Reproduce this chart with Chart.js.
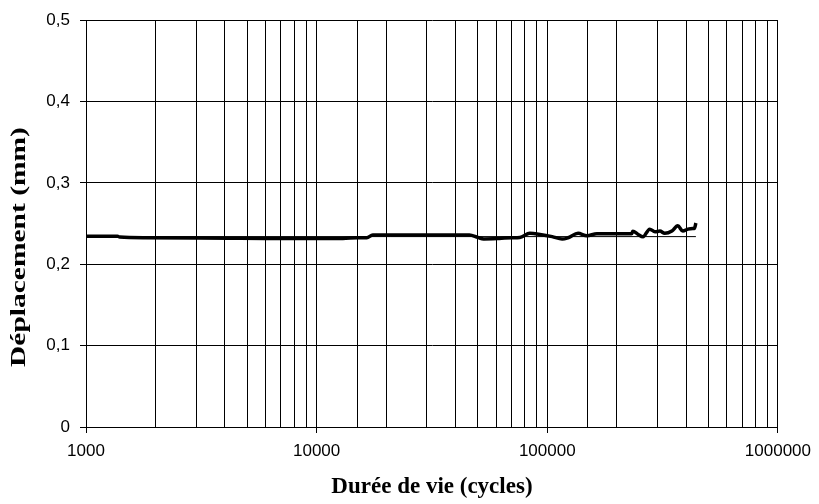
<!DOCTYPE html>
<html>
<head>
<meta charset="utf-8">
<script src="https://cdn.jsdelivr.net/npm/chart.js@4/dist/chart.umd.min.js"></script>
<style>
  html, body { margin: 0; padding: 0; background: #fff; }
  #wrap { width: 819px; height: 504px; position: relative; }
</style>
</head>
<body>
<div id="wrap"><canvas id="c" width="819" height="504"></canvas></div>
<script>
// ---- data ----
const cycles = [1000, 1370, 1400, 1770, 1800, 4200, 6000, 13000, 15000, 16500, 17500, 30000, 46000, 50000, 53000, 62000, 70000, 76000, 84000, 93000, 105000, 116000, 123000, 136000, 148500, 164000, 200000, 232000, 235000, 247000, 260000, 278000, 293000, 308000, 323000, 347000, 368000, 387000, 407000, 428000, 434000, 441000];
const displacement = [0.2346, 0.2346, 0.2334, 0.2326, 0.2326, 0.2320, 0.2318, 0.2318, 0.2326, 0.2326, 0.2360, 0.2360, 0.2360, 0.2330, 0.2312, 0.2318, 0.2326, 0.2330, 0.2380, 0.2367, 0.2340, 0.2310, 0.2326, 0.2380, 0.2350, 0.2375, 0.2375, 0.2375, 0.2405, 0.2370, 0.2338, 0.2432, 0.2400, 0.2408, 0.2380, 0.2408, 0.2473, 0.2408, 0.2432, 0.2440, 0.2440, 0.2506];
const refCycles = [1000, 441000];
const refDisplacement = [0.234, 0.234];
const xMin = 1000, xMax = 1000000;
const yMin = 0, yMax = 0.5, yStep = 0.1;
const xTitle = 'Durée de vie (cycles)';
const yTitle = 'Déplacement (mm)';

const toPts = (xs, ys) => xs.map((x, i) => ({ x: x, y: ys[i] }));
const isPow10 = v => { const l = Math.log10(v); return Math.abs(l - Math.round(l)) < 1e-9; };

const yTitlePlugin = {
  id: 'yTitle',
  afterDraw(chart) {
    const ctx = chart.ctx;
    ctx.save();
    ctx.translate(19.5, 247);
    ctx.rotate(-Math.PI / 2);
    ctx.scale(1.34, 1);
    ctx.font = 'bold 22px "Liberation Serif", "Times New Roman", serif';
    ctx.fillStyle = '#000';
    ctx.textAlign = 'center';
    ctx.textBaseline = 'middle';
    ctx.fillText(yTitle, 0, 0);
    ctx.restore();
  }
};

new Chart(document.getElementById('c'), {
  type: 'scatter',
  data: {
    datasets: [
      {
        data: toPts(refCycles, refDisplacement),
        showLine: true,
        borderColor: '#000',
        borderWidth: 1,
        pointRadius: 0,
        order: 2
      },
      {
        data: toPts(cycles, displacement),
        showLine: true,
        borderColor: '#000',
        borderWidth: 3.5,
        pointRadius: 0,
        tension: 0.3,
        cubicInterpolationMode: 'monotone',
        order: 1
      }
    ]
  },
  options: {
    responsive: false,
    animation: false,
    events: [],
    layout: { padding: { top: 20, right: 41, left: 0, bottom: 0 } },
    plugins: { legend: { display: false }, tooltip: { enabled: false } },
    scales: {
      x: {
        type: 'logarithmic',
        min: xMin,
        max: xMax,
        afterFit(scale) { scale.height = 77; },
        border: { color: '#000', width: 1 },
        grid: {
          color: '#000',
          lineWidth: 1,
          tickLength: 6,
          tickColor: ctx => (ctx.tick && isPow10(ctx.tick.value)) ? '#000' : 'rgba(0,0,0,0)'
        },
        ticks: {
          autoSkip: false,
          maxRotation: 0,
          padding: 8,
          color: '#000',
          font: { family: '"Liberation Sans", Arial, sans-serif', size: 17 },
          callback: v => isPow10(v) ? String(Math.round(v)) : ''
        },
        title: {
          display: true,
          text: xTitle,
          color: '#000',
          font: { family: '"Liberation Serif", "Times New Roman", serif', size: 23, weight: 'bold' },
          padding: { top: 0, bottom: 3 }
        }
      },
      y: {
        min: yMin,
        max: yMax,
        afterFit(scale) { scale.width = 86; },
        border: { color: '#000', width: 1 },
        grid: { color: '#000', lineWidth: 1, tickLength: 6, tickColor: '#000' },
        ticks: {
          stepSize: yStep,
          padding: 10,
          color: '#000',
          font: { family: '"Liberation Sans", Arial, sans-serif', size: 17 },
          callback: v => (Math.abs(v) < 1e-9 ? '0' : v.toFixed(1).replace('.', ','))
        },
        title: { display: false }
      }
    }
  },
  plugins: [yTitlePlugin]
});
</script>
</body>
</html>
